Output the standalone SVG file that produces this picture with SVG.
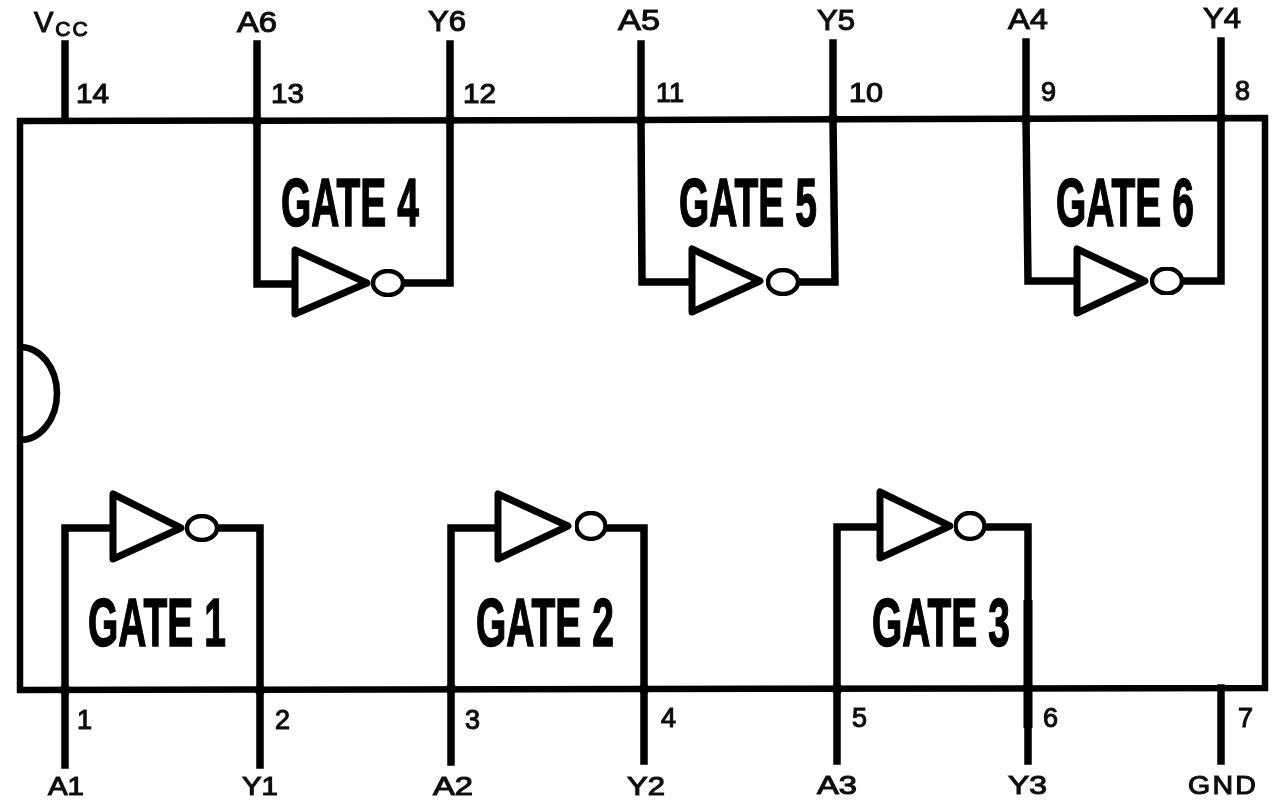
<svg xmlns="http://www.w3.org/2000/svg" width="1280" height="800" viewBox="0 0 1280 800">
<defs>
<filter id="scan" x="-5%" y="-5%" width="110%" height="110%"><feGaussianBlur stdDeviation="0.55"/></filter>
</defs>
<style>
.w{fill:none;stroke:#000;stroke-width:7.500;stroke-linecap:square;stroke-linejoin:miter}
.b{fill:none;stroke:#000;stroke-width:6.500;stroke-linejoin:miter}
.t{fill:#fff;stroke:#000;stroke-width:7;stroke-linejoin:round;filter:url(#scan)}
.c{fill:#fff;stroke:#000;stroke-width:4.500;filter:url(#scan)}
.g{font-family:"Liberation Sans",Arial,sans-serif;font-weight:700;font-size:69px;fill:#000;stroke:#000;stroke-width:1.500}
.p{font-family:"Liberation Sans",Arial,sans-serif;font-size:29px;font-weight:400;fill:#111;stroke:#111;stroke-width:1.100}
.n{font-size:27px}
.q{font-size:26px}
.s{font-size:21px;letter-spacing:2px}
.j{fill:#000}
</style>
<rect width="1280" height="800" fill="#fff"/>
<g id="chip" filter="url(#scan)">
<path class="b" d="M20 121 L640 120 L1265 118 L1265 688 L640 689 L20 690 Z"/>
<path class="b" d="M20 347 A37 46.500 0 0 1 20 440"/>
</g>
<g id="connectors" filter="url(#scan)">
<path class="w" d="M65 44V120"/>
<path class="w" d="M257 44V284H295"/>
<path class="w" d="M450 44V283H403"/>
<path class="w" d="M641 44V120L642 282H692"/>
<path class="w" d="M833 43V120L835 282H798"/>
<path class="w" d="M1026 42V120L1028 281H1077"/>
<path class="w" d="M1221 41V281H1182"/>
<path class="w" d="M65 765V528H113"/>
<path class="w" d="M260 765V528H217"/>
<path class="w" d="M451 762V528H498"/>
<path class="w" d="M644 761V528H605"/>
<path class="w" d="M837 761V527H880"/>
<path class="w" d="M1028 761V527H984"/>
<path class="w" d="M1221 688V761"/>
<path class="w" style="stroke-width:9;stroke-linecap:butt" d="M1028 600V728"/>
<circle class="j" cx="257" cy="121" r="5.500"/><circle class="j" cx="450" cy="120" r="5.500"/>
<circle class="j" cx="641" cy="120" r="5.500"/><circle class="j" cx="833" cy="119" r="5.500"/>
<circle class="j" cx="1026" cy="119" r="5.500"/><circle class="j" cx="1221" cy="118" r="5.500"/>
<circle class="j" cx="65" cy="690" r="5.500"/><circle class="j" cx="260" cy="690" r="5.500"/>
<circle class="j" cx="451" cy="689" r="5.500"/><circle class="j" cx="644" cy="689" r="5.500"/>
<circle class="j" cx="837" cy="689" r="5.500"/><circle class="j" cx="1028" cy="688" r="5.500"/>
</g>
<g id="gate4">
<path class="t" d="M295 250V314L367 283Z"/><ellipse class="c" cx="388" cy="283" rx="15" ry="12"/>
<text class="g" transform="translate(281 225.500) scale(.565 1)">GATE 4</text>
</g>
<g id="gate5">
<path class="t" d="M692 249V312L760 281Z"/><ellipse class="c" cx="783" cy="282" rx="15" ry="12"/>
<text class="g" transform="translate(679 225.500) scale(.565 1)">GATE 5</text>
</g>
<g id="gate6">
<path class="t" d="M1077 249V313L1145 281Z"/><ellipse class="c" cx="1167" cy="281" rx="15" ry="12.500"/>
<text class="g" transform="translate(1056 226) scale(.565 1)">GATE 6</text>
</g>
<g id="gate1">
<path class="t" d="M113 494V559L181 528Z"/><ellipse class="c" cx="202" cy="528" rx="15" ry="12"/>
<text class="g" transform="translate(88 645.500) scale(.565 1)">GATE 1</text>
</g>
<g id="gate2">
<path class="t" d="M498 494V559L568 526Z"/><ellipse class="c" cx="591" cy="526" rx="14.500" ry="13"/>
<text class="g" transform="translate(476 646) scale(.565 1)">GATE 2</text>
</g>
<g id="gate3">
<path class="t" d="M880 492V558L950 526Z"/><ellipse class="c" cx="970" cy="526" rx="14.500" ry="13"/>
<text class="g" transform="translate(872 645.500) scale(.565 1)">GATE 3</text>
</g>
<g id="pin-labels" filter="url(#scan)">
<text class="p" x="34" y="32">V<tspan class="s" dx="2" dy="4">CC</tspan></text>
<text class="p" x="237" y="32" textLength="40" lengthAdjust="spacingAndGlyphs">A6</text>
<text class="p" x="428" y="31" textLength="38" lengthAdjust="spacingAndGlyphs">Y6</text>
<text class="p" x="618" y="30" textLength="42" lengthAdjust="spacingAndGlyphs">A5</text>
<text class="p" x="817" y="30" textLength="38" lengthAdjust="spacingAndGlyphs">Y5</text>
<text class="p" x="1008" y="29" textLength="40" lengthAdjust="spacingAndGlyphs">A4</text>
<text class="p" x="1203" y="28" textLength="38" lengthAdjust="spacingAndGlyphs">Y4</text>
<text class="p n" x="76" y="103" textLength="33" lengthAdjust="spacingAndGlyphs">14</text>
<text class="p n" x="271" y="103" textLength="33" lengthAdjust="spacingAndGlyphs">13</text>
<text class="p n" x="463" y="103" textLength="33" lengthAdjust="spacingAndGlyphs">12</text>
<text class="p n" x="656" y="102" textLength="28" lengthAdjust="spacingAndGlyphs">11</text>
<text class="p n" x="849" y="102" textLength="34" lengthAdjust="spacingAndGlyphs">10</text>
<text class="p n" x="1041" y="101">9</text>
<text class="p n" x="1235" y="100">8</text>
<text class="p n" x="77" y="729">1</text>
<text class="p n" x="275" y="729">2</text>
<text class="p n" x="465" y="729">3</text>
<text class="p n" x="661" y="727">4</text>
<text class="p n" x="852" y="727">5</text>
<text class="p n" x="1043" y="727">6</text>
<text class="p n" x="1238" y="727">7</text>
<text class="p q" x="48" y="794.500" textLength="36" lengthAdjust="spacingAndGlyphs">A1</text>
<text class="p q" x="242" y="794.500" textLength="36" lengthAdjust="spacingAndGlyphs">Y1</text>
<text class="p q" x="433" y="794.500" textLength="40" lengthAdjust="spacingAndGlyphs">A2</text>
<text class="p q" x="627" y="794.500" textLength="38" lengthAdjust="spacingAndGlyphs">Y2</text>
<text class="p q" x="817" y="794" textLength="40" lengthAdjust="spacingAndGlyphs">A3</text>
<text class="p q" x="1008" y="794" textLength="39" lengthAdjust="spacingAndGlyphs">Y3</text>
<text class="p q" x="1188" y="794" textLength="70" lengthAdjust="spacingAndGlyphs" letter-spacing="2">GND</text>
</g>
</svg>
